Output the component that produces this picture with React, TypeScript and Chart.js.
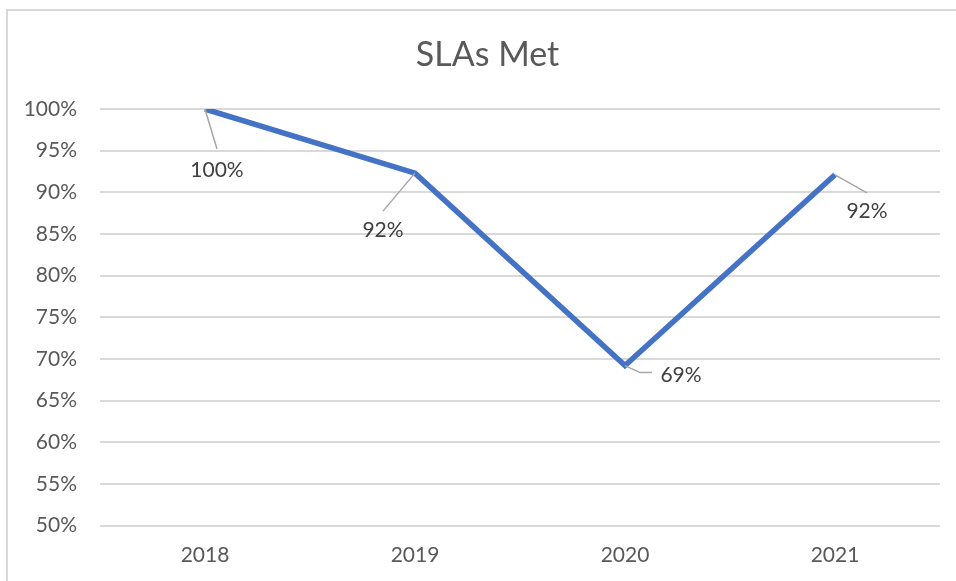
import React, { useEffect, useRef } from "react";
import { Chart, registerables } from "chart.js";

Chart.register(...registerables);

const categories = ["2018", "2019", "2020", "2021"];
const slaValues = [100, 92.3, 69.2, 92.1];
const yTickMin = 50;
const yTickMax = 100;
const yTickStep = 5;
const chartTitle = "SLAs Met";

// leader line points and label centre offsets relative to each data point
const leaderOffsets: number[][][] = [
  [[0, 0], [12, 40]],
  [[0, 0], [-32, 38]],
  [[0, 0], [15, 7], [27, 7]],
  [[0, 0], [32, 18]],
];
const labelOffsets: number[][] = [
  [12, 61.5],
  [-32, 57.5],
  [56, 9.5],
  [32, 36.5],
];

const FONT = "Lato, 'Open Sans', sans-serif";

const titlePlugin = {
  id: "centredTitle",
  afterDraw(chart: any) {
    const ctx = chart.ctx;
    ctx.save();
    ctx.fillStyle = "#595959";
    ctx.font = `34px ${FONT}`;
    ctx.textAlign = "center";
    ctx.textBaseline = "middle";
    ctx.fillText(chartTitle, chart.width / 2, 55.5);
    ctx.restore();
  },
};

const dataLabelPlugin = {
  id: "leaderLabels",
  afterDatasetsDraw(chart: any) {
    const ctx = chart.ctx;
    const meta = chart.getDatasetMeta(0);
    const ds = chart.data.datasets[0];
    meta.data.forEach((el: any, i: number) => {
      const px = el.x;
      const py = el.y;
      const pts = leaderOffsets[i];
      ctx.save();
      ctx.strokeStyle = "#a6a6a6";
      ctx.lineWidth = 1.5;
      ctx.beginPath();
      pts.forEach((p, j) => {
        if (j === 0) ctx.moveTo(px + p[0], py + p[1]);
        else ctx.lineTo(px + p[0], py + p[1]);
      });
      ctx.stroke();
      const lo = labelOffsets[i];
      ctx.fillStyle = "#404040";
      ctx.font = `21px ${FONT}`;
      ctx.textAlign = "center";
      ctx.textBaseline = "middle";
      ctx.fillText(Math.round(ds.data[i]) + "%", px + lo[0], py + lo[1]);
      ctx.restore();
    });
  },
};

export default function App() {
  const ref = useRef<HTMLCanvasElement | null>(null);

  useEffect(() => {
    if (!ref.current) return;
    const chart = new Chart(ref.current, {
      type: "line",
      data: {
        labels: categories,
        datasets: [
          {
            data: slaValues,
            borderColor: "#4472C4",
            borderWidth: 5.5,
            pointRadius: 0,
            pointHoverRadius: 0,
            tension: 0,
            fill: false,
          },
        ],
      },
      options: {
        animation: false,
        responsive: false,
        maintainAspectRatio: false,
        events: [],
        layout: { padding: { left: 0, right: 35, top: 109, bottom: 0 } },
        plugins: {
          legend: { display: false },
          tooltip: { enabled: false },
          title: { display: false },
        },
        scales: {
          x: {
            offset: true,
            grid: { display: false, drawTicks: false },
            border: { display: false },
            ticks: {
              color: "#595959",
              font: { family: FONT, size: 21 },
              padding: 17,
              maxRotation: 0,
            },
            afterFit(scale: any) {
              scale.height = 55.5;
            },
          },
          y: {
            min: yTickMin,
            max: yTickMax,
            grid: { color: "#d9d9d9", lineWidth: 2, drawTicks: false },
            border: { display: false },
            ticks: {
              stepSize: yTickStep,
              color: "#595959",
              font: { family: FONT, size: 21 },
              padding: 23,
              callback: (v: any) => v + "%",
            },
            afterFit(scale: any) {
              scale.width = 100;
            },
          },
        },
      },
      plugins: [dataLabelPlugin, titlePlugin],
    });
    return () => chart.destroy();
  }, []);

  return (
    <div
      style={{
        position: "fixed",
        left: 0,
        top: 0,
        width: 956,
        height: 581,
        overflow: "hidden",
        background: "#ffffff",
      }}
    >
      <div
        style={{
          position: "absolute",
          left: 6,
          top: 9,
          width: 1200,
          height: 1200,
          borderLeft: "2px solid #d9d9d9",
          borderTop: "2px solid #d9d9d9",
        }}
      />
      <canvas
        ref={ref}
        width={975}
        height={581}
        style={{ position: "absolute", left: 0, top: 0, width: 975, height: 581 }}
      />
    </div>
  );
}
